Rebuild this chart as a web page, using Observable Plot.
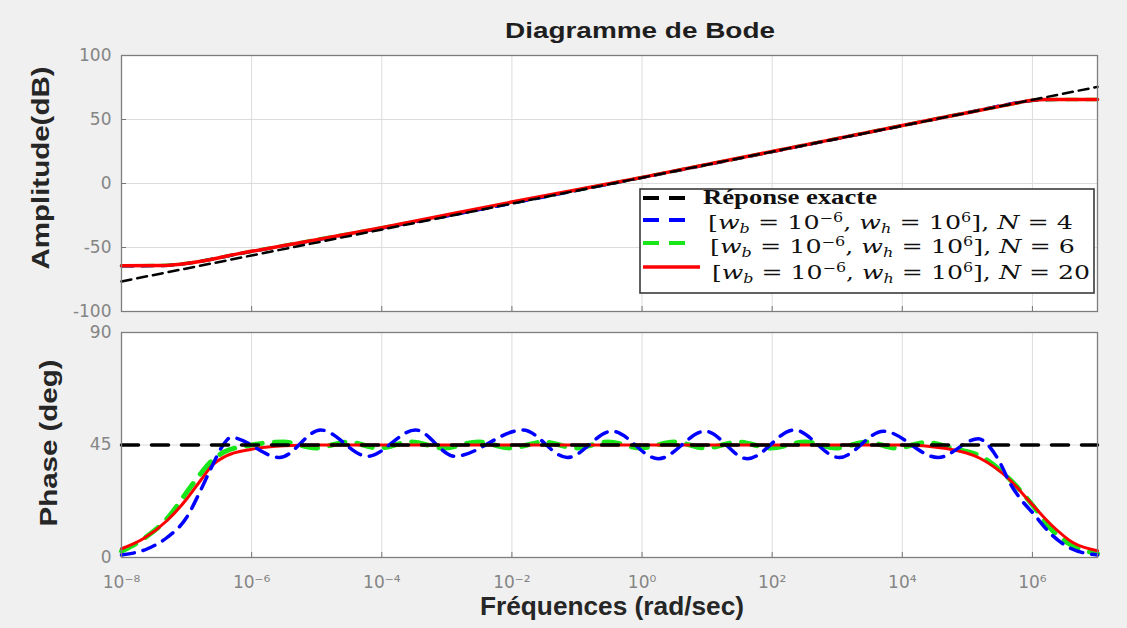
<!DOCTYPE html>
<html>
<head>
<meta charset="utf-8">
<script src="https://cdn.jsdelivr.net/npm/d3@7"></script>
<script src="https://cdn.jsdelivr.net/npm/@observablehq/plot@0.6"></script>
<style>
  html, body { margin: 0; padding: 0; background: #f0f0f0; }
  #fig { position: relative; width: 1127px; height: 628px; background: #f0f0f0; overflow: hidden; }
  #fig > svg { position: absolute; left: 0; }
</style>
</head>
<body>
<div id="fig"></div>
<script>
// ---- Frequency axis (exponents of 10, rad/s) ----
const freqDomainExp = [-8, 7];
const decadeTickExp = [-8, -6, -4, -2, 0, 2, 4, 6];

// ---- Amplitude axis ----
const ampDomain = [-100, 100];
const ampTicks = [-100, -50, 0, 50, 100];

// ---- Phase axis ----
const phaseDomain = [0, 90];
const phaseTicks = [0, 45, 90];

// ---- Legend labels ----
const exactLabel = "Réponse exacte";
const wbExp = "−6";
const whExp = "6";
const orders = [4, 6, 20];

// ---- Amplitude (dB) ----
const ampExactExp = [-8, 7];
const ampExactDb  = [-76.5, 75.5];

const ampN4Exp = [-8, -7.4, -7.0, -6.6, -6.2, -5.6, -4, 0, 4, 5.2, 5.6, 5.9, 6.2, 7];
const ampN4Db  = [-64.5, -64.2, -62.5, -59, -55, -49.5, -35, 4.6, 45.2, 57.5, 61.8, 64.2, 65.5, 65.6];

const ampN6Exp = [-8, -7.4, -7.1, -6.8, -6.5, -6.2, -5.6, -4, 0, 4, 5.2, 5.6, 5.9, 6.2, 7];
const ampN6Db  = [-64.3, -64, -63, -61, -58, -55, -49.3, -34.6, 4.7, 45.3, 57.4, 61.3, 64.2, 65.5, 65.6];

const ampN20Exp = [-8, -7.4, -7.1, -6.8, -6.5, -6.2, -6, -5.5, -5, -4, -2, 0, 2, 4, 5, 5.5, 5.8, 6.0, 6.2, 7];
const ampN20Db  = [-64.2, -64, -63, -61, -58, -54.8, -53, -48.5, -44, -34.5, -14.5, 4.8, 25, 45.3, 55.3, 60.3, 63.3, 65, 65.6, 65.6];

// ---- Phase (deg) ----
const phExactExp = [-8, 7];
const phExactDeg = [45, 45];

const phN4Exp = [-8, -7.6, -7.3, -7.0, -6.8, -6.6, -6.45, -6.32, -5.57, -4.94, -4.22, -3.48, -2.88, -1.83, -1.15,
                 -0.46, 0.25, 0.97, 1.62, 2.34, 3.03, 3.71, 4.55, 5.17, 5.35, 5.5, 5.65, 5.8, 6.0, 6.3, 6.6, 7];
const phN4Deg = [1, 3.5, 8, 16, 26, 37, 44.5, 48, 40, 51, 40.5, 51, 40.5, 51, 40,
                 50.5, 39.5, 50.5, 39.5, 51, 40, 50.5, 40, 47.5, 44, 38, 30, 24, 18, 9, 3.5, 1];

const phN6Exp = [-8, -7.66, -7.3, -7.0, -6.8, -6.6, -6.4, -6.1, -5.51, -5.02, -4.52, -4.05, -3.55, -3.05,
                 -2.52, -2.02, -1.51, -1.02, -0.52, -0.02, 0.49, 0.98, 1.48, 1.98, 2.51, 2.98, 3.46, 3.91,
                 4.37, 4.8, 5.2, 5.5, 5.7, 6.0, 6.3, 6.6, 7];
const phN6Deg = [2.5, 7.5, 15.5, 26, 33, 39, 42.5, 44.5, 46.2, 43.8, 46.2, 43.8, 46.2, 43.8,
                 46.2, 43.8, 46.2, 43.8, 46.2, 43.8, 46.2, 43.8, 46.2, 43.8, 46.2, 43.8, 46.2, 43.8,
                 46, 43.5, 40.5, 35, 30, 21, 11, 5, 1.5];

const phN20Exp = [-8, -7.66, -7.29, -6.98, -6.78, -6.6, -6.4, -6.0, -5.5, -5, 4, 4.65, 5.2, 5.63, 5.97, 6.3, 6.62, 7];
const phN20Deg = [3.5, 7.6, 15, 24, 31, 37, 40.5, 43.3, 44.7, 45, 45, 43.7, 39.6, 31.6, 22, 12.8, 6, 2.7];

// ---- helpers ----
const series = (exps, vals) => exps.map((e, i) => ({w: 10 ** e, v: vals[i]}));
const supDigits = {"-": "⁻", "−": "⁻", "0": "⁰", "1": "¹", "2": "²", "3": "³", "4": "⁴", "5": "⁵", "6": "⁶", "7": "⁷", "8": "⁸", "9": "⁹"};
const decadeLabel = e => "10" + String(e).split("").map(c => supDigits[c]).join("");
const xTickVals = decadeTickExp.map(e => 10 ** e);

const colExact = "#000000", colN4 = "#0000ff", colN6 = "#19e619", colN20 = "#ff0000";
const gridStroke = "#dcdcdc";
const frameStroke = "#7d7d7d";
const plotStyle = {background: "transparent", overflow: "visible", fontFamily: "DejaVu Sans", fontSize: "17px", color: "#858585"};

const xScale = {type: "log", domain: freqDomainExp.map(e => 10 ** e), axis: null};

// ---- Amplitude panel ----
const ampPlot = Plot.plot({
  width: 1127, height: 330,
  marginLeft: 121, marginRight: 30, marginTop: 55, marginBottom: 19,
  style: plotStyle,
  x: xScale,
  y: {domain: ampDomain, axis: null},
  marks: [
    Plot.frame({fill: "white", stroke: null}),
    Plot.gridX(xTickVals, {stroke: gridStroke, strokeOpacity: 1}),
    Plot.gridY(ampTicks, {stroke: gridStroke, strokeOpacity: 1}),
    Plot.tickX(xTickVals, {x: d => d, insetTop: 251, stroke: "#777"}),
    Plot.tickY(ampTicks, {y: d => d, insetRight: 971, stroke: "#777"}),
    Plot.line(series(ampN6Exp, ampN6Db), {x: "w", y: "v", stroke: colN6, strokeWidth: 3.5, strokeDasharray: "12,8", curve: "monotone-x"}),
    Plot.line(series(ampN4Exp, ampN4Db), {x: "w", y: "v", stroke: colN4, strokeWidth: 3, strokeDasharray: "12,8", curve: "monotone-x"}),
    Plot.line(series(ampN20Exp, ampN20Db), {x: "w", y: "v", stroke: colN20, strokeWidth: 3.5, curve: "monotone-x"}),
    Plot.line(series(ampExactExp, ampExactDb), {x: "w", y: "v", stroke: colExact, strokeWidth: 2.5, strokeDasharray: "10,6"}),
    Plot.axisY(ampTicks, {tickSize: 0, tickPadding: 10, label: null, tickFormat: d => String(d)}),
    Plot.frame({stroke: frameStroke, strokeWidth: 1.3})
  ]
});

// ---- Phase panel ----
const phasePlot = Plot.plot({
  width: 1127, height: 317,
  marginLeft: 121, marginRight: 30, marginTop: 21, marginBottom: 71,
  style: plotStyle,
  x: xScale,
  y: {domain: phaseDomain, axis: null},
  marks: [
    Plot.frame({fill: "white", stroke: null}),
    Plot.gridX(xTickVals, {stroke: gridStroke, strokeOpacity: 1}),
    Plot.gridY(phaseTicks, {stroke: gridStroke, strokeOpacity: 1}),
    Plot.tickX(xTickVals, {x: d => d, insetTop: 220, stroke: "#777"}),
    Plot.tickY(phaseTicks, {y: d => d, insetRight: 971, stroke: "#777"}),
    Plot.line(series(phN6Exp, phN6Deg), {x: "w", y: "v", stroke: colN6, strokeWidth: 5, strokeDasharray: "16,12", curve: "monotone-x"}),
    Plot.line(series(phN20Exp, phN20Deg), {x: "w", y: "v", stroke: colN20, strokeWidth: 3, curve: "monotone-x"}),
    Plot.line(series(phN4Exp, phN4Deg), {x: "w", y: "v", stroke: colN4, strokeWidth: 3.5, strokeDasharray: "13,9", curve: "monotone-x"}),
    Plot.line(series(phExactExp, phExactDeg), {x: "w", y: "v", stroke: colExact, strokeWidth: 3.5, strokeDasharray: "17,13"}),
    Plot.axisY(phaseTicks, {tickSize: 0, tickPadding: 10, label: null, tickFormat: d => String(d)}),
    Plot.axisX(xTickVals, {tickSize: 0, tickPadding: 18, label: null, tickFormat: d => decadeLabel(Math.round(Math.log10(d)))}),
    Plot.frame({stroke: frameStroke, strokeWidth: 1.3})
  ]
});

const fig = document.getElementById("fig");
ampPlot.style.top = "0px";
phasePlot.style.top = "311px";
fig.appendChild(ampPlot);
fig.appendChild(phasePlot);

// ---- Titles, axis labels and legend ----
const ov = d3.create("svg")
  .attr("width", 1127).attr("height", 628)
  .style("top", "0px").style("pointer-events", "none");

ov.append("text")
  .attr("x", 640).attr("y", 38)
  .attr("text-anchor", "middle")
  .attr("font-family", "Liberation Sans").attr("font-weight", "bold").attr("font-size", 22)
  .attr("textLength", 270).attr("lengthAdjust", "spacingAndGlyphs")
  .attr("fill", "#1e1e1e")
  .text("Diagramme de Bode");

ov.append("text")
  .attr("transform", "translate(49,168) rotate(-90)")
  .attr("text-anchor", "middle")
  .attr("font-family", "Liberation Sans").attr("font-weight", "bold").attr("font-size", 24)
  .attr("textLength", 203).attr("lengthAdjust", "spacingAndGlyphs")
  .attr("fill", "#262626")
  .text("Amplitude(dB)");

ov.append("text")
  .attr("transform", "translate(57,443) rotate(-90)")
  .attr("text-anchor", "middle")
  .attr("font-family", "Liberation Sans").attr("font-weight", "bold").attr("font-size", 24)
  .attr("textLength", 167).attr("lengthAdjust", "spacingAndGlyphs")
  .attr("fill", "#262626")
  .text("Phase (deg)");

ov.append("text")
  .attr("x", 612).attr("y", 615)
  .attr("text-anchor", "middle")
  .attr("font-family", "Liberation Sans").attr("font-weight", "bold").attr("font-size", 25)
  .attr("textLength", 264).attr("lengthAdjust", "spacingAndGlyphs")
  .attr("fill", "#262626")
  .text("Fréquences (rad/sec)");

// legend box
const lg = ov.append("g");
lg.append("rect")
  .attr("x", 640).attr("y", 189).attr("width", 454).attr("height", 104)
  .attr("fill", "white").attr("stroke", "#3a3a3a").attr("stroke-width", 1.6);

const rows = [
  {color: colExact, dash: "16,10", width: 4, ly: 198},
  {color: colN4, dash: "16,10", width: 4, ly: 220},
  {color: colN6, dash: "16,10", width: 4, ly: 243},
  {color: colN20, dash: null, width: 3.5, ly: 267}
];
rows.forEach(r => {
  lg.append("line")
    .attr("x1", 643).attr("x2", r.dash ? 690 : 700)
    .attr("y1", r.ly).attr("y2", r.ly)
    .attr("stroke", r.color).attr("stroke-width", r.width)
    .attr("stroke-dasharray", r.dash);
});

lg.append("text")
  .attr("x", 703).attr("y", 204)
  .attr("font-family", "Liberation Serif").attr("font-weight", "bold").attr("font-size", 20)
  .attr("textLength", 174).attr("lengthAdjust", "spacingAndGlyphs")
  .attr("fill", "#111")
  .text(exactLabel);

const mathRows = [
  {x: 708, y: 229, len: 365},
  {x: 710, y: 253, len: 365},
  {x: 712, y: 279, len: 378}
];
orders.forEach((n, i) => {
  const m = mathRows[i];
  const t = lg.append("text")
    .attr("x", m.x).attr("y", m.y)
    .attr("font-family", "DejaVu Serif").attr("font-size", 19)
    .attr("textLength", m.len).attr("lengthAdjust", "spacingAndGlyphs")
    .attr("fill", "#111");
  const parts = [
    {s: "["}, {s: "w", it: 1}, {s: "b", it: 1, sub: 1}, {s: " = 10"}, {s: wbExp, sup: 1},
    {s: ", "}, {s: "w", it: 1}, {s: "h", it: 1, sub: 1}, {s: " = 10"}, {s: whExp, sup: 1},
    {s: "], "}, {s: "N", it: 1}, {s: " = " + n}
  ];
  let shift = 0;
  parts.forEach(p => {
    const target = p.sub ? 4 : p.sup ? -7 : 0;
    const ts = t.append("tspan")
      .attr("dy", target - shift)
      .attr("font-size", p.sub || p.sup ? 12 : 19)
      .text(p.s);
    if (p.it) ts.attr("font-style", "italic");
    shift = target;
  });
});

fig.appendChild(ov.node());
</script>
</body>
</html>
